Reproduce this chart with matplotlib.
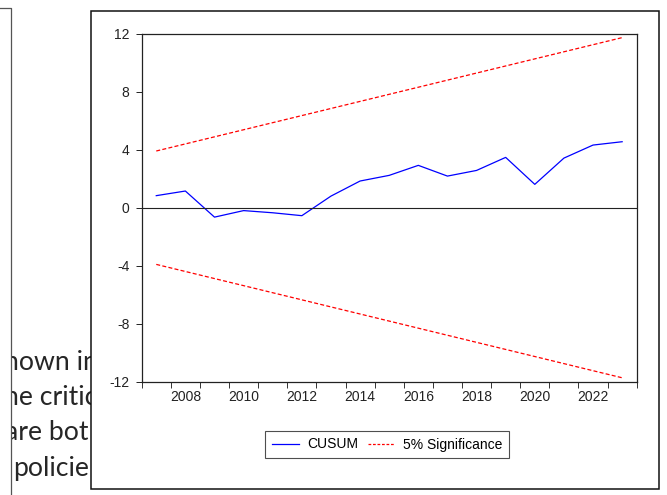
import matplotlib
matplotlib.use("Agg")
import matplotlib.pyplot as plt
from matplotlib.patches import Rectangle
from matplotlib.lines import Line2D

# CUSUM test, annual observations
years = list(range(2007, 2024))
cusum = [0.83, 1.15, -0.65, -0.20, -0.35, -0.55, 0.80, 1.84, 2.23, 2.92,
         2.18, 2.57, 3.47, 1.61, 3.42, 4.32, 4.55]
bound_years = [2007, 2023]
upper_bound = [3.91, 11.73]
lower_bound = [-3.91, -11.73]
y_ticks = [-12, -8, -4, 0, 4, 8, 12]
x_labels = [2008, 2010, 2012, 2014, 2016, 2018, 2020, 2022]

# document text peeking out behind the chart
page_lines = ["hown in", "he critic", "are bot", "policie"]

W, H = 667, 495
plt.rcParams["font.family"] = ["Liberation Sans", "DejaVu Sans"]
plt.rcParams["axes.unicode_minus"] = False

fig = plt.figure(figsize=(W / 100, H / 100), dpi=100)

# page layer in pixel coords
bg = fig.add_axes([0, 0, 1, 1])
bg.set_xlim(0, W)
bg.set_ylim(H, 0)
bg.axis("off")

strip = Rectangle((11.6, 0), 91 - 11.6, H, transform=bg.transData,
                  facecolor="none", edgecolor="none")
text_x = [4.3, 4.3, 4.6, 13.5]
text_base = [369.5, 405, 440.5, 476]
for s, x0, yb in zip(page_lines, text_x, text_base):
    t = bg.text(x0, yb, s, family=["Lato", "DejaVu Sans"], fontsize=19.2,
                color="#262626", va="baseline", ha="left")
    t.set_clip_path(strip)

# white margin left of the page edge, page edge line, chart frame
bg.add_patch(Rectangle((0, 8.8), 10.6, H, facecolor="white",
                       edgecolor="none", zorder=4))
bg.plot([0, 11, 11], [8.3, 8.3, H], color="#555555", linewidth=0.9, zorder=5)
bg.add_patch(Rectangle((91, 10.7), 659 - 91, 488.7 - 10.7,
                       facecolor="white", edgecolor="#111111",
                       linewidth=1.1, zorder=5))

# plot area
left, right, top, bottom = 141.7, 636.7, 33.7, 381.7
ax = fig.add_axes([left / W, 1 - bottom / H, (right - left) / W, (bottom - top) / H])

ax.plot(years, cusum, color="#0000ff", linewidth=0.9, label="CUSUM")
ax.plot(bound_years, upper_bound, color="#ff0000", linewidth=0.9,
        dashes=(3.2, 1.8), label="5% Significance")
ax.plot(bound_years, lower_bound, color="#ff0000", linewidth=0.9, dashes=(3.2, 1.8))
ax.axhline(0, color="#222222", linewidth=0.8)

ax.set_xlim(2006.5, 2023.5)
ax.set_ylim(-12, 12)

ax.set_yticks(y_ticks)
ax.set_yticklabels([str(v) for v in y_ticks])
ax.tick_params(axis="y", direction="out", length=4.3, width=0.7, pad=4.4,
               labelsize=10, colors="#222222")

# ticks at year boundaries, labels centred on the years
ax.set_xticks([y + 0.5 for y in range(2006, 2024)])
ax.set_xticklabels([])
ax.set_xticks(x_labels, minor=True)
ax.set_xticklabels([str(v) for v in x_labels], minor=True)
ax.tick_params(axis="x", which="major", direction="out", length=4.5, width=0.7,
               colors="#333333")
ax.tick_params(axis="x", which="minor", length=0, pad=6.3, labelsize=10,
               labelcolor="#222222")

for sp in ax.spines.values():
    sp.set_linewidth(0.9)
    sp.set_color("#222222")

handles = [Line2D([], [], color="#0000ff", linewidth=0.9),
           Line2D([], [], color="#ff0000", linewidth=0.9, dashes=(2.2, 1.4))]
leg = ax.legend(handles, ["CUSUM", "5% Significance"], ncol=2, loc="center",
                bbox_to_anchor=(387.3 / W, 1 - 444.5 / H),
                bbox_transform=fig.transFigure, fontsize=10, frameon=True,
                fancybox=False, handlelength=1.95, handletextpad=0.55,
                columnspacing=0.75, borderpad=0.5, borderaxespad=0)
leg.get_frame().set_edgecolor("#222222")
leg.get_frame().set_linewidth(0.8)

fig.savefig("out.png", dpi=100)
